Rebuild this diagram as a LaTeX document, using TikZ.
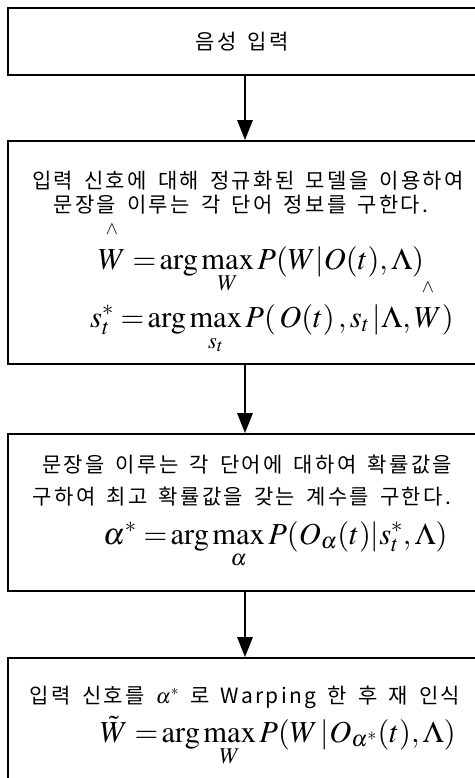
\documentclass[tikz,border=0pt]{standalone}
\usepackage{amsmath}
\usepackage{mathptmx}
\usepackage{fontspec}
\setmainfont{Liberation Serif}
\newfontfamily\kofont[LetterSpace=11,WordSpace=1.6]{Noto Sans CJK KR}
\usetikzlibrary{arrows.meta}

\newcommand{\highhat}[1]{\overset{\raisebox{9pt}{$\scriptscriptstyle\wedge$}}{#1}}
\newcommand{\lowlim}{\rule{0pt}{16pt}}
\newcommand{\tighteq}{\;{=}}

\tikzset{
  stage/.style={draw, line width=1.7pt, minimum width=474pt, inner sep=0pt},
  flow/.style={line width=2.8pt, -{Triangle[length=20pt,width=15pt]}},
  ko/.style={font=\kofont\fontsize{21}{25}\selectfont, inner sep=0pt},
  eq/.style={font=\fontsize{30.5}{36}\selectfont, inner sep=0pt, anchor=base west}
}

\begin{document}
\begin{tikzpicture}[x=1pt,y=-1pt]
  \useasboundingbox (0,0) rectangle (474,778);

  % the four stages
  \node[stage, minimum height=67pt] (input) at (245,41.5) {};
  \node[stage, minimum height=223pt] (decode) at (245,252.5) {};
  \node[stage, minimum height=157pt] (warp) at (245,512.5) {};
  \node[stage, minimum height=142pt] (redo) at (245,729) {};

  % flow between stages
  \draw[flow] (input) -- (decode);
  \draw[flow] (decode) -- (warp);
  \draw[flow] (warp) -- (redo);

  % first stage
  \node[ko] (inputtext) at (242,42) {음성 입력};

  % second stage
  \node[ko] (decodea) at (248,181) {입력 신호에 대해 정규화된 모델을 이용하여};
  \node[ko] (decodeb) at (241,205) {문장을 이루는 각 단어 정보를 구한다.};
  \node[eq] (wordeq) at (98,269)
    {$\highhat{W}\tighteq\arg\max\limits_{\lowlim W} P(W|O(t),\Lambda)$};
  \node[eq] (stateeq) at (90,327)
    {$s_t^{*}\tighteq\arg\max\limits_{\lowlim s_t} P(\,O(t)\,,s_t\,|\Lambda,\highhat{W})$};

  % third stage
  \node[ko] (warpa) at (247,465) {문장을 이루는 각 단어에 대하여 확률값을};
  \node[ko] (warpb) at (242,497) {구하여 최고 확률값을 갖는 계수를 구한다.};
  \node[eq] (alphaeq) at (103,544)
    {$\alpha^{*}\tighteq\arg\max\limits_{\lowlim\alpha} P(O_\alpha(t)|s_t^{*},\Lambda)$};

  % last stage
  \node[ko] (redotext) at (245,697) {입력 신호를 $\alpha^{*}$ 로 Warping 한 후 재 인식};
  \node[eq] (finaleq) at (100,742)
    {$\tilde{W}\tighteq\arg\max\limits_{\lowlim W} P(W\,|O_{\alpha^{*}}(t),\Lambda)$};
\end{tikzpicture}
\end{document}
